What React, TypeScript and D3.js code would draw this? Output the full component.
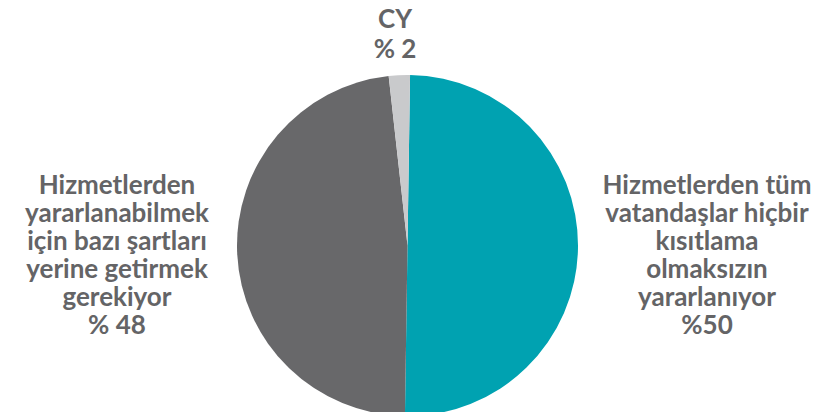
import React, { useEffect, useRef } from "react";
import * as d3 from "d3";

const categories = ["Hizmetlerden tüm vatandaşlar hiçbir kısıtlama olmaksızın yararlanıyor", "Hizmetlerden yararlanabilmek için bazı şartları yerine getirmek gerekiyor", "CY"];
const values = [50, 48, 2];
const colors = ["#00a2b1", "#68686a", "#c9cacc"];
const labelLines = [
  ["Hizmetlerden tüm", "vatandaşlar hiçbir", "kısıtlama", "olmaksızın", "yararlanıyor", "%50"],
  ["Hizmetlerden", "yararlanabilmek", "için bazı şartları", "yerine getirmek", "gerekiyor", "% 48"],
  ["CY", "% 2"],
];
const labelPos = [
  [707, 193.5],
  [117, 193.5],
  [395, 28],
];

export default function App() {
  const svgRef = useRef<SVGSVGElement>(null);

  useEffect(() => {
    const w = 822;
    const h = 412;
    const cx = 407.5;
    const cy = 245.5;
    const r = 170.5;
    const svg = d3.select(svgRef.current).attr("width", w).attr("height", h);
    svg.selectAll("*").remove();

    const pie = d3.pie<number>().sort(null).startAngle(0.015).endAngle(0.015 + Math.PI * 2);
    const arc = d3.arc<d3.PieArcDatum<number>>().innerRadius(0).outerRadius(r);

    svg.append("g")
      .attr("transform", `translate(${cx},${cy})`)
      .selectAll("path")
      .data(pie(values))
      .join("path")
      .attr("d", arc)
      .attr("fill", (d, i) => colors[i]);

    const lg = svg.append("g")
      .style("font-family", "Lato, sans-serif")
      .style("font-weight", "bold")
      .style("font-size", "26px")
      .attr("fill", "#646466")
      .attr("text-anchor", "middle");

    labelLines.forEach((lines, i) => {
      const t = lg.append("text").attr("data-cat", categories[i]);
      lines.forEach((line, j) => {
        t.append("tspan")
          .attr("x", labelPos[i][0])
          .attr("y", labelPos[i][1] + j * (i === 2 ? 30 : 28))
          .text(line);
      });
    });
  }, []);

  return (
    <div style={{ position: "absolute", left: 0, top: 0 }}>
      <svg ref={svgRef} style={{ display: "block" }}></svg>
    </div>
  );
}
